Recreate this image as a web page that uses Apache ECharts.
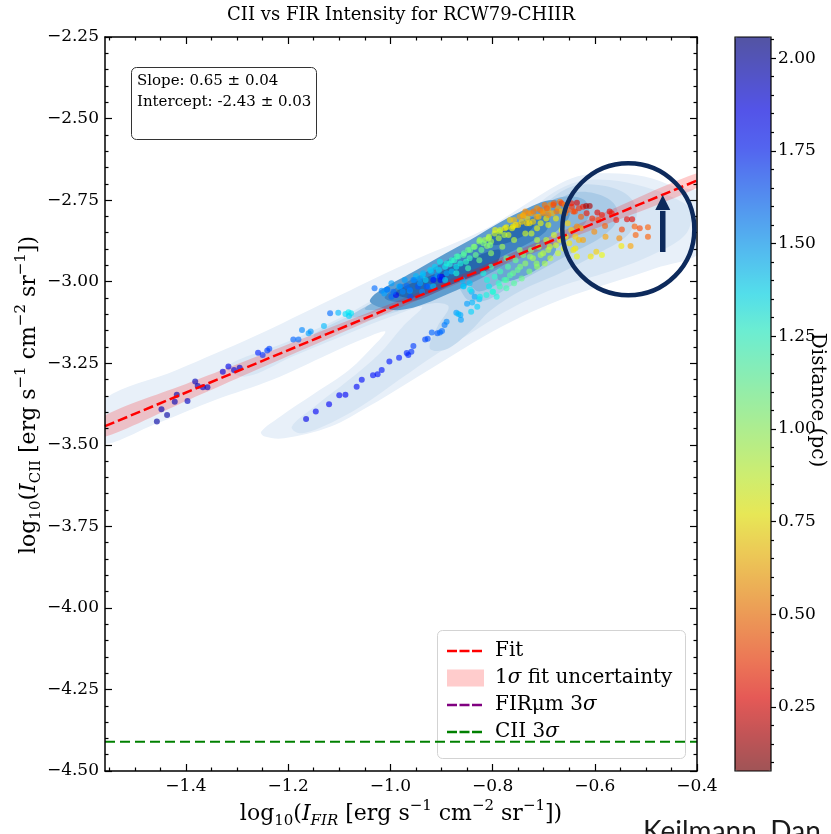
<!DOCTYPE html>
<html>
<head>
<meta charset="utf-8">
<script src="https://cdn.jsdelivr.net/npm/echarts@6.0.0/dist/echarts.min.js"></script>
<style>
html,body{margin:0;padding:0;background:#ffffff;}
#chart{width:831px;height:834px;}
</style>
</head>
<body>
<div id="chart"></div>
<script>
// ---------------- axis ranges & ticks ----------------
const X_MIN = -1.5585, X_MAX = -0.4;
const Y_MIN = -4.5, Y_MAX = -2.25;
const CB_MIN = 0.077, CB_MAX = 2.057;
const xMajorTicks = [-1.4, -1.2, -1.0, -0.8, -0.6, -0.4];
const xMinorTicks = [-1.55,-1.5,-1.45,-1.35,-1.3,-1.25,-1.15,-1.1,-1.05,-0.95,-0.9,-0.85,-0.75,-0.7,-0.65,-0.55,-0.5,-0.45];
const yMajorTicks = [-4.5,-4.25,-4.0,-3.75,-3.5,-3.25,-3.0,-2.75,-2.5,-2.25];
const yMinorTicks = [-4.45,-4.4,-4.35,-4.3,-4.2,-4.15,-4.1,-4.05,-3.95,-3.9,-3.85,-3.8,-3.7,-3.65,-3.6,-3.55,-3.45,-3.4,-3.35,-3.3,-3.2,-3.15,-3.1,-3.05,-2.95,-2.9,-2.85,-2.8,-2.7,-2.65,-2.6,-2.55,-2.45,-2.4,-2.35,-2.3];
const cbMajorTicks = [0.25,0.5,0.75,1.0,1.25,1.5,1.75,2.0];
const cbMinorTicks = [0.1,0.15,0.2,0.3,0.35,0.4,0.45,0.55,0.6,0.65,0.7,0.8,0.85,0.9,0.95,1.05,1.1,1.15,1.2,1.3,1.35,1.4,1.45,1.55,1.6,1.65,1.7,1.8,1.85,1.9,1.95,2.05];

// ---------------- fit & thresholds ----------------
const fitSlope = "0.65 \u00b1 0.04";
const fitIntercept = "-2.43 \u00b1 0.03";
const fitLine = [[-1.5585, -3.443], [-0.4, -2.69]];
const bandX  = [-1.56, -1.4, -1.2, -1.0, -0.8, -0.6, -0.4];
const bandHi = [-3.412, -3.314, -3.192, -3.068, -2.938, -2.802, -2.668];
const bandLo = [-3.476, -3.366, -3.228, -3.092, -2.962, -2.838, -2.712];
const cii3sigma = -4.41;

// ---------------- scatter points [log FIR, log CII, distance pc] ----------------
const ptsLowerLeft = [
 [-1.457,-3.429,2.0],[-1.448,-3.391,1.98],[-1.437,-3.409,2.0],[-1.422,-3.368,1.97],[-1.418,-3.347,1.98],
 [-1.397,-3.366,1.95],[-1.382,-3.306,1.96],[-1.377,-3.320,1.97],[-1.367,-3.324,1.95],[-1.358,-3.324,1.96],
 [-1.328,-3.276,1.9],[-1.317,-3.260,1.88],[-1.306,-3.271,1.92],[-1.295,-3.264,1.93],
 [-1.259,-3.218,1.75],[-1.250,-3.225,1.72],[-1.241,-3.211,1.7],[-1.237,-3.206,1.68],
 [-1.190,-3.177,1.62],[-1.180,-3.177,1.6],[-1.173,-3.148,1.55],[-1.160,-3.158,1.5],[-1.156,-3.153,1.52],
 [-1.118,-3.097,1.6],[-1.102,-3.095,1.45],[-1.088,-3.099,1.38],[-1.082,-3.094,1.35],[-1.077,-3.097,1.36],
 [-1.081,-3.105,1.4],[-1.130,-3.136,1.45]
];
const ptsBranch = [
 [-1.165,-3.421,1.88],[-1.146,-3.398,1.86],[-1.120,-3.376,1.85],[-1.100,-3.348,1.84],[-1.088,-3.347,1.85],
 [-1.066,-3.322,1.83],[-1.056,-3.301,1.82],[-1.034,-3.287,1.8],[-1.025,-3.284,1.8],[-1.017,-3.271,1.79],
 [-1.002,-3.245,1.78],[-0.983,-3.233,1.76],[-0.968,-3.219,1.74],[-0.965,-3.225,1.75],[-0.959,-3.215,1.72],
 [-0.955,-3.197,1.7],[-0.932,-3.177,1.68],[-0.927,-3.175,1.66],[-0.919,-3.156,1.62],[-0.908,-3.158,1.64],
 [-0.903,-3.156,1.6],[-0.899,-3.151,1.6],[-0.894,-3.133,1.58],[-0.890,-3.123,1.55],[-0.871,-3.095,1.5],
 [-0.863,-3.102,1.48],[-0.867,-3.099,1.45],[-0.842,-3.092,1.4],[-0.862,-3.117,1.5],[-0.859,-2.995,1.45],
 [-0.857,-3.013,1.5],[-0.845,-3.005,1.42],[-0.841,-3.031,1.45],[-0.835,-3.046,1.48],[-0.826,-3.054,1.42],
 [-0.840,-3.064,1.45],[-0.850,-3.068,1.5],[-0.830,-3.077,1.4]
];
const ptsCore = [
 [-1.031,-3.020,1.6],[-1.017,-3.028,1.55],[-1.012,-3.036,1.5],[-1.006,-3.024,1.6],[-0.998,-3.046,1.6],
 [-0.989,-3.041,1.85],[-0.983,-3.015,1.45],[-0.972,-2.995,1.5],[-0.968,-3.013,1.6],[-0.962,-3.028,1.5],
 [-0.953,-2.995,1.55],[-0.950,-2.983,1.45],[-0.946,-3.015,1.65],[-0.942,-3.005,1.5],[-0.937,-2.980,1.4],
 [-0.931,-2.995,1.4],[-0.925,-3.015,1.55],[-0.920,-2.969,1.45],[-0.916,-2.990,1.6],[-0.908,-2.980,1.5],
 [-0.905,-2.964,1.4],[-0.902,-2.995,1.85],[-0.899,-2.985,1.9],[-0.893,-2.954,1.35],[-0.890,-2.974,1.5],
 [-0.884,-2.946,1.3],[-0.880,-2.969,1.45],[-0.875,-2.934,1.25],[-0.871,-2.954,1.35],[-0.867,-2.923,1.2],
 [-0.863,-2.944,1.3],[-0.856,-2.913,1.15],[-0.852,-2.939,1.25],[-0.848,-2.903,1.1],[-0.845,-2.928,1.2],
 [-0.837,-2.893,1.05],[-0.833,-2.918,1.1],[-0.826,-2.877,1.0],[-0.822,-2.903,1.1],[-0.815,-2.872,0.95],
 [-0.811,-2.891,1.0],[-0.807,-2.862,0.9],[-0.803,-2.877,0.95],[-0.796,-2.852,0.85],[-0.788,-2.867,0.9],
 [-0.785,-2.842,0.85],[-0.777,-2.857,0.9],[-0.773,-2.833,0.8],[-0.766,-2.811,0.7],[-0.762,-2.836,0.8],
 [-0.758,-2.811,0.65],[-0.755,-2.826,0.75],[-0.747,-2.801,0.6],[-0.743,-2.816,0.7],[-0.740,-2.796,0.65],
 [-0.736,-2.785,0.55],[-0.732,-2.806,0.7],[-0.728,-2.821,0.75],[-0.725,-2.790,0.6],[-0.721,-2.816,0.7],
 [-0.713,-2.775,0.55],[-0.710,-2.801,0.65],[-0.706,-2.821,0.8],[-0.702,-2.785,0.6],[-0.698,-2.765,0.5],
 [-0.695,-2.806,0.75],[-0.691,-2.780,0.6],[-0.687,-2.765,0.55],[-0.683,-2.790,0.65],[-0.680,-2.760,0.45],
 [-0.676,-2.806,0.75],[-0.672,-2.775,0.6],[-0.668,-2.755,0.5],[-0.665,-2.785,0.65],
 [-0.998,-3.005,1.5],[-0.976,-3.031,1.55],[-0.961,-3.046,1.65],[-0.938,-3.031,1.55],[-0.916,-3.015,1.45],
 [-0.893,-2.995,1.4],[-0.871,-2.974,1.3],[-0.848,-2.959,1.2],[-0.826,-2.934,1.1],[-0.803,-2.913,1.0],
 [-0.781,-2.893,0.95],[-0.758,-2.872,0.9],[-0.736,-2.852,0.85],[-0.713,-2.836,0.8],[-0.691,-2.826,0.8]
];
const ptsCoreExtra = [
 [-0.740,-2.799,0.6],[-0.730,-2.790,0.55],[-0.720,-2.785,0.5],[-0.714,-2.801,0.6],[-0.707,-2.780,0.5],
 [-0.701,-2.790,0.55],[-0.694,-2.775,0.45],[-0.691,-2.796,0.55],[-0.681,-2.765,0.4],[-0.675,-2.785,0.5],
 [-0.665,-2.760,0.35],[-0.658,-2.790,0.5],[-0.645,-2.770,0.35],[-0.639,-2.785,0.4],
 [-0.795,-2.842,0.8],[-0.786,-2.847,0.85],[-0.776,-2.836,0.75],[-0.769,-2.857,0.85],[-0.760,-2.831,0.75],
 [-0.750,-2.826,0.7],[-0.733,-2.821,0.7],[-0.724,-2.852,0.85],
 [-0.825,-2.872,1.0],[-0.818,-2.882,1.05],[-0.808,-2.867,0.95],[-0.805,-2.888,1.05],[-0.835,-2.893,1.05],
 [-0.844,-2.903,1.1],[-0.857,-2.918,1.15],[-0.870,-2.923,1.2],[-0.880,-2.934,1.25],[-0.890,-2.944,1.3],
 [-0.903,-2.939,1.35],[-0.913,-2.954,1.4],[-0.922,-2.964,1.4],[-0.936,-2.974,1.45],[-0.942,-2.990,1.5],
 [-0.955,-2.995,1.55],[-0.903,-2.985,1.75],[-0.916,-2.995,1.8],[-0.929,-3.015,1.65],[-0.962,-3.025,1.6],
 [-0.981,-3.015,1.55],[-0.994,-3.031,1.6],[-1.007,-3.025,1.55],
 [-0.727,-2.923,1.0],[-0.714,-2.944,1.0],[-0.701,-2.913,0.9],[-0.688,-2.893,0.85],[-0.746,-2.954,1.05],
 [-0.760,-2.974,1.1],[-0.773,-2.995,1.15],[-0.786,-3.015,1.2],[-0.799,-3.031,1.25],[-0.812,-3.041,1.3],
 [-0.825,-3.046,1.35],[-0.844,-3.025,1.35],[-0.857,-3.015,1.4]
];
const ptsLobe = [
 [-0.818,-2.974,1.3],[-0.811,-2.995,1.3],[-0.807,-3.015,1.35],[-0.800,-3.031,1.3],[-0.796,-2.985,1.25],
 [-0.788,-3.005,1.25],[-0.792,-3.046,1.3],[-0.785,-2.969,1.2],[-0.777,-2.995,1.2],[-0.773,-3.020,1.2],
 [-0.770,-2.954,1.15],[-0.766,-2.980,1.15],[-0.758,-3.005,1.15],[-0.755,-2.934,1.1],[-0.751,-2.964,1.1],
 [-0.743,-2.990,1.1],[-0.740,-2.918,1.05],[-0.736,-2.944,1.0],[-0.728,-2.969,1.05],[-0.725,-2.903,1.0],
 [-0.721,-2.928,0.95],[-0.713,-2.954,1.0],[-0.710,-2.893,0.95],[-0.706,-2.918,0.95],[-0.698,-2.944,0.95],
 [-0.695,-2.872,0.9],[-0.691,-2.903,0.9],[-0.687,-2.928,0.9],[-0.680,-2.857,0.85],[-0.676,-2.888,0.85],
 [-0.672,-2.913,0.88],[-0.668,-2.872,0.8],[-0.665,-2.842,0.8],[-0.661,-2.898,0.8],[-0.657,-2.862,0.75],
 [-0.653,-2.821,0.7],[-0.650,-2.882,0.75],[-0.646,-2.842,0.7],[-0.642,-2.903,0.75],[-0.638,-2.862,0.7],
 [-0.635,-2.923,0.8],[-0.631,-2.872,0.65],[-0.627,-2.836,0.6],[-0.803,-2.954,1.2],[-0.773,-2.928,1.1],
 [-0.747,-2.903,1.0],[-0.713,-2.872,0.9]
];
const ptsCircle = [
 [-0.659,-2.765,0.5],[-0.653,-2.780,0.45],[-0.646,-2.760,0.3],[-0.642,-2.785,0.4],[-0.635,-2.758,0.25],
 [-0.631,-2.775,0.35],[-0.627,-2.801,0.45],[-0.623,-2.770,0.3],[-0.617,-2.768,0.15],[-0.610,-2.768,0.15],
 [-0.616,-2.790,0.3],[-0.605,-2.806,0.35],[-0.595,-2.788,0.25],[-0.593,-2.811,0.4],[-0.586,-2.796,0.3],
 [-0.580,-2.829,0.45],[-0.571,-2.785,0.25],[-0.567,-2.790,0.3],[-0.558,-2.811,0.3],[-0.547,-2.840,0.4],
 [-0.537,-2.809,0.25],[-0.527,-2.809,0.25],[-0.522,-2.831,0.45],[-0.520,-2.857,0.45],[-0.512,-2.836,0.4],
 [-0.496,-2.833,0.45],[-0.496,-2.862,0.45],[-0.552,-2.867,0.55],[-0.530,-2.891,0.6],[-0.548,-2.891,0.75],
 [-0.608,-2.923,0.75],[-0.597,-2.908,0.7],[-0.586,-2.918,0.8],[-0.623,-2.872,0.6],[-0.601,-2.847,0.55],
 [-0.579,-2.862,0.6],[-0.638,-2.898,0.75],[-0.635,-2.831,0.55]
];

// ---------------- KDE filled contours (outer -> inner) ----------------
const kdeL1 = [[-1.57,-3.373],[-1.418,-3.271],[-1.268,-3.169],[-1.118,-3.056],[-0.968,-2.944],[-0.818,-2.842],[-0.743,-2.770],[-0.668,-2.699],[-0.623,-2.673],[-0.571,-2.668],[-0.503,-2.678],[-0.443,-2.709],[-0.39,-2.734],[-0.39,-2.903],[-0.481,-2.959],[-0.571,-3.005],[-0.668,-3.056],[-0.743,-3.107],[-0.818,-3.169],[-0.893,-3.240],[-0.968,-3.312],[-1.043,-3.383],[-1.118,-3.445],[-1.208,-3.480],[-1.246,-3.475],[-1.253,-3.460],[-1.216,-3.414],[-1.148,-3.342],[-1.081,-3.271],[-1.028,-3.189],[-1.010,-3.153],[-1.043,-3.169],[-1.118,-3.220],[-1.231,-3.301],[-1.343,-3.363],[-1.456,-3.434],[-1.57,-3.496]];
const kdeL2 = [[-1.321,-3.261],[-1.193,-3.179],[-1.081,-3.097],[-0.968,-2.995],[-0.856,-2.903],[-0.758,-2.821],[-0.683,-2.729],[-0.631,-2.693],[-0.571,-2.688],[-0.503,-2.709],[-0.443,-2.745],[-0.413,-2.780],[-0.421,-2.852],[-0.481,-2.913],[-0.571,-2.969],[-0.668,-3.015],[-0.758,-3.077],[-0.833,-3.148],[-0.908,-3.220],[-0.983,-3.301],[-1.058,-3.383],[-1.133,-3.445],[-1.178,-3.465],[-1.193,-3.445],[-1.148,-3.383],[-1.081,-3.301],[-1.021,-3.220],[-0.976,-3.138],[-0.938,-3.077],[-0.998,-3.107],[-1.081,-3.158],[-1.193,-3.230],[-1.283,-3.291]];
const kdeL3 = [[-1.148,-3.158],[-1.043,-3.077],[-0.953,-2.995],[-0.856,-2.913],[-0.758,-2.831],[-0.698,-2.760],[-0.646,-2.709],[-0.593,-2.704],[-0.541,-2.729],[-0.518,-2.780],[-0.533,-2.852],[-0.593,-2.913],[-0.668,-2.974],[-0.743,-3.026],[-0.803,-3.087],[-0.848,-3.158],[-0.893,-3.209],[-0.923,-3.204],[-0.908,-3.138],[-0.886,-3.077],[-0.916,-3.066],[-0.998,-3.097],[-1.081,-3.138],[-1.148,-3.174]];
const kdeL4 = [[-1.081,-3.107],[-0.998,-3.036],[-0.908,-2.964],[-0.818,-2.893],[-0.743,-2.821],[-0.691,-2.770],[-0.646,-2.729],[-0.601,-2.729],[-0.563,-2.760],[-0.556,-2.811],[-0.586,-2.862],[-0.646,-2.913],[-0.706,-2.964],[-0.766,-3.015],[-0.811,-3.056],[-0.848,-3.056],[-0.871,-3.015],[-0.908,-3.026],[-0.983,-3.066],[-1.058,-3.107]];
const kdeL5 = [[-1.050,-3.082],[-0.968,-3.012],[-0.893,-2.950],[-0.818,-2.878],[-0.758,-2.815],[-0.706,-2.768],[-0.661,-2.740],[-0.620,-2.750],[-0.612,-2.801],[-0.646,-2.862],[-0.691,-2.913],[-0.743,-2.964],[-0.788,-3.005],[-0.826,-3.030],[-0.848,-3.010],[-0.878,-3.012],[-0.938,-3.045],[-1.006,-3.082]];
const kdeL6a = [[-1.040,-3.056],[-0.942,-2.958],[-0.844,-2.872],[-0.746,-2.786],[-0.678,-2.750],[-0.649,-2.796],[-0.697,-2.872],[-0.786,-2.958],[-0.883,-3.035],[-0.981,-3.087]];
const kdeL6b = [[-0.788,-2.964],[-0.743,-2.913],[-0.691,-2.872],[-0.676,-2.903],[-0.706,-2.954],[-0.758,-2.995],[-0.788,-2.995]];
const kdeL7 = [[-1.011,-3.047],[-0.923,-2.964],[-0.825,-2.881],[-0.737,-2.811],[-0.692,-2.796],[-0.697,-2.848],[-0.786,-2.927],[-0.874,-3.004],[-0.962,-3.062]];
const kdeL8a = [[-0.991,-3.032],[-0.903,-2.970],[-0.825,-2.918],[-0.786,-2.903],[-0.795,-2.949],[-0.883,-3.010],[-0.962,-3.050]];
const kdeL8b = [[-0.805,-2.860],[-0.746,-2.817],[-0.717,-2.817],[-0.737,-2.857],[-0.795,-2.888]];
const kdePolys = [kdeL1, kdeL2, kdeL3, kdeL4, kdeL5, kdeL6a, kdeL6b, kdeL7, kdeL8a, kdeL8b];
const kdeColors = ['#e8f0f9','#d8e6f4','#c4daee','#a9cae6','#88b7dc','#5f9dcf','#6aa5d3','#3f82c1','#2667ad','#2a6bb0'];

// ---------------- annotation (hand-drawn circle + arrow) ----------------
const circleCenter = [-0.5344, -2.8391];
const circleRadiusX = 0.1292;
const arrowX = -0.467, arrowTip = -2.734, arrowHeadBase = -2.780, arrowTail = -2.909, arrowHalfWidth = 0.0147;

// jet_r colormap stops (min -> max)
const jetRStops = [[128,0,0],[185,0,0],[244,9,0],[255,57,0],[255,104,0],[255,151,0],[255,198,0],[247,245,0],
 [206,255,41],[164,255,82],[123,255,123],[82,255,164],[41,255,206],[0,230,247],[0,179,255],[0,128,255],
 [0,77,255],[0,26,255],[0,0,244],[0,0,185],[0,0,128]];
const withAlpha = (a) => jetRStops.map(c => 'rgba(' + c[0] + ',' + c[1] + ',' + c[2] + ',' + a + ')');

const SERIF = 'DejaVu Serif';
const points = [].concat(ptsLowerLeft, ptsBranch, ptsCore, ptsCoreExtra, ptsLobe, ptsCircle);
const fmt = (v, d) => (v < 0 ? '\u2212' : '') + Math.abs(v).toFixed(d);

function xAx(position, ticks, len, label, line) {
  return {type:'value', gridIndex:0, position:position, min:X_MIN, max:X_MAX, z:6,
    axisLine:{show:line, onZero:false, lineStyle:{color:'#000', width:1.5}},
    axisTick:{show:true, inside:true, length:len, customValues:ticks, lineStyle:{color:'#000', width:1.2}},
    axisLabel:{show:label, customValues:ticks, margin:7, fontFamily:SERIF, fontSize:17, color:'#000', formatter:v=>fmt(v,1)},
    splitLine:{show:false}};
}
function yAx(position, ticks, len, label, line) {
  return {type:'value', gridIndex:0, position:position, min:Y_MIN, max:Y_MAX, z:6,
    axisLine:{show:line, onZero:false, lineStyle:{color:'#000', width:1.5}},
    axisTick:{show:true, inside:true, length:len, customValues:ticks, lineStyle:{color:'#000', width:1.2}},
    axisLabel:{show:label, customValues:ticks, margin:6, fontFamily:SERIF, fontSize:17, color:'#000', formatter:v=>fmt(v,2)},
    splitLine:{show:false}};
}
function cbAx(ticks, len, label) {
  return {type:'value', gridIndex:1, position:'right', min:CB_MIN, max:CB_MAX, z:6,
    axisLine:{show:false, onZero:false},
    axisTick:{show:true, inside:false, length:len, customValues:ticks, lineStyle:{color:'#000', width:1.2}},
    axisLabel:{show:label, customValues:ticks, margin:7, fontFamily:SERIF, fontSize:17, color:'#000', formatter:v=>v.toFixed(2)},
    splitLine:{show:false}};
}

const supTxt = (s) => '{sup|' + s + '}';
const richLabel = {
  r:{fontFamily:SERIF, fontSize:22, lineHeight:30, color:'#000'},
  i:{fontFamily:SERIF, fontSize:22, lineHeight:30, fontStyle:'italic', color:'#000'},
  sub:{fontFamily:SERIF, fontSize:15, lineHeight:15, verticalAlign:'bottom', color:'#000'},
  isub:{fontFamily:SERIF, fontSize:15, lineHeight:15, verticalAlign:'bottom', fontStyle:'italic', color:'#000'},
  sup:{fontFamily:SERIF, fontSize:15, lineHeight:17, verticalAlign:'top', color:'#000'}
};
const unitPart = '{r| [erg s}' + supTxt('\u22121') + '{r| cm}' + supTxt('\u22122') + '{r| sr}' + supTxt('\u22121') + '{r|])}';
const xTitle = '{r|log}{sub|10}{r|(}{i|I}{isub|FIR}' + unitPart;
const yTitle = '{r|log}{sub|10}{r|(}{i|I}{sub|CII}' + unitPart;

const legendRich = {
  t:{fontFamily:SERIF, fontSize:20, color:'#000'},
  s:{fontFamily:SERIF, fontSize:20, fontStyle:'italic', color:'#000'}
};
const legendRows = [
  {y:651, kind:'line', color:'#ff0000', text:'{t|Fit}'},
  {y:678, kind:'patch', color:'#ffcccc', text:'{t|1}{s|σ}{t| fit uncertainty}'},
  {y:705, kind:'line', color:'#800080', text:'{t|FIRμm 3}{s|σ}'},
  {y:732, kind:'line', color:'#008000', text:'{t|CII 3}{s|σ}'}
];
const legendEls = [{type:'rect', shape:{x:437.5, y:630.5, width:248, height:128, r:5},
  style:{fill:'rgba(255,255,255,0.8)', stroke:'#d3d3d3', lineWidth:1}}];
legendRows.forEach(row => {
  if (row.kind === 'line') {
    legendEls.push({type:'line', shape:{x1:447, y1:row.y, x2:482, y2:row.y},
      style:{stroke:row.color, lineWidth:2.5, lineDash:[10,2.5]}});
  } else {
    legendEls.push({type:'rect', shape:{x:447, y:row.y-8.5, width:37, height:17}, style:{fill:row.color}});
  }
  legendEls.push({type:'text', x:495, y:row.y, style:{text:row.text, rich:legendRich, verticalAlign:'middle', align:'left'}});
});

const option = {
  animation:false,
  backgroundColor:'#ffffff',
  grid:[
    {left:105, top:37, width:592, height:734, show:false},
    {left:735, top:37, width:36, height:734, show:true, z:10, borderColor:'#000', borderWidth:1.2, backgroundColor:'transparent'}
  ],
  xAxis:[
    xAx('bottom', xMajorTicks, 7, true, true),
    xAx('top', xMajorTicks, 7, false, true),
    xAx('bottom', xMinorTicks, 3.5, false, false),
    xAx('top', xMinorTicks, 3.5, false, false),
    {type:'value', gridIndex:1, min:0, max:1, show:false}
  ],
  yAxis:[
    yAx('left', yMajorTicks, 7, true, true),
    yAx('right', yMajorTicks, 7, false, true),
    yAx('left', yMinorTicks, 3.5, false, false),
    yAx('right', yMinorTicks, 3.5, false, false),
    cbAx(cbMajorTicks, 5, true),
    cbAx(cbMinorTicks, 3, false)
  ],
  visualMap:[
    {type:'continuous', show:false, min:CB_MIN, max:CB_MAX, dimension:2, seriesIndex:2,
      inRange:{color:withAlpha(0.78)}},
    {type:'continuous', show:true, min:CB_MIN, max:CB_MAX, dimension:2, seriesIndex:5, orient:'vertical',
      left:735, top:37, itemWidth:36, itemHeight:734, padding:0, calculable:false, hoverLink:false,
      text:null, inRange:{color:withAlpha(0.6)}, z:4}
  ],
  series:[
    {type:'custom', name:'KDE', xAxisIndex:0, yAxisIndex:0, clip:true, silent:true, z:1,
      data:kdePolys.map((p,i)=>[i]),
      renderItem:function(params, api){
        const poly = kdePolys[params.dataIndex];
        return {type:'polygon', shape:{points:poly.map(p=>api.coord(p)), smooth:0.35},
          style:{fill:kdeColors[params.dataIndex]}};
      }},
    {type:'custom', name:'1σ fit uncertainty', xAxisIndex:0, yAxisIndex:0, clip:true, silent:true, z:2,
      data:[[0]],
      renderItem:function(params, api){
        const pts = [];
        for (let i=0;i<bandX.length;i++) pts.push(api.coord([bandX[i], bandHi[i]]));
        for (let i=bandX.length-1;i>=0;i--) pts.push(api.coord([bandX[i], bandLo[i]]));
        return {type:'polygon', shape:{points:pts, smooth:0.2}, style:{fill:'rgba(255,0,0,0.2)'}};
      }},
    {type:'scatter', name:'Distance', xAxisIndex:0, yAxisIndex:0, data:points, symbolSize:6, z:3,
      itemStyle:{borderWidth:0}},
    {type:'line', name:'Fit', xAxisIndex:0, yAxisIndex:0, data:fitLine, symbol:'none', z:4,
      lineStyle:{color:'#ff0000', width:2.5, type:[10,4]}},
    {type:'line', name:'CII 3σ', xAxisIndex:0, yAxisIndex:0, data:[[X_MIN,cii3sigma],[X_MAX,cii3sigma]], symbol:'none', z:4,
      lineStyle:{color:'#008000', width:2, type:[10,5]}},
    {type:'line', name:'FIRμm 3σ', xAxisIndex:0, yAxisIndex:0, data:[], symbol:'none', lineStyle:{color:'#800080'}},
    {type:'custom', name:'annotation', xAxisIndex:0, yAxisIndex:0, clip:false, silent:true, z:8, data:[[0]],
      renderItem:function(params, api){
        const c = api.coord(circleCenter);
        const r = api.size([circleRadiusX, 0])[0];
        const tip = api.coord([arrowX, arrowTip]);
        const base = api.coord([arrowX, arrowHeadBase]);
        const tail = api.coord([arrowX, arrowTail]);
        const hw = api.size([arrowHalfWidth, 0])[0];
        return {type:'group', children:[
          {type:'circle', shape:{cx:c[0], cy:c[1], r:r}, style:{fill:'none', stroke:'#0d2a5c', lineWidth:4.5}},
          {type:'line', shape:{x1:tail[0], y1:tail[1], x2:base[0], y2:base[1]+1}, style:{stroke:'#0d2a5c', lineWidth:5.5}},
          {type:'polygon', shape:{points:[[tip[0],tip[1]],[base[0]-hw,base[1]],[base[0]+hw,base[1]]]}, style:{fill:'#0d2a5c'}}
        ]};
      }}
  ],
  graphic:[
    {type:'text', x:401, y:15, style:{text:'CII vs FIR Intensity for RCW79-CHIIR', fontFamily:SERIF, fontSize:18, fill:'#000', align:'center', verticalAlign:'middle'}},
    {type:'text', x:401, y:814, style:{text:xTitle, rich:richLabel, align:'center', verticalAlign:'middle'}},
    {type:'text', x:29, y:395, rotation:Math.PI/2, style:{text:yTitle, rich:richLabel, align:'center', verticalAlign:'middle'}},
    {type:'text', x:817, y:400, rotation:-Math.PI/2, style:{text:'Distance (pc)', fontFamily:SERIF, fontSize:20, fill:'#000', align:'center', verticalAlign:'middle'}},
    {type:'rect', shape:{x:131.5, y:67.5, width:185, height:72, r:5}, style:{fill:'#ffffff', stroke:'#333333', lineWidth:1}, z:20},
    {type:'text', x:137, y:81, z:21, style:{text:'Slope: ' + fitSlope, fontFamily:SERIF, fontSize:15, fill:'#000', verticalAlign:'middle'}},
    {type:'text', x:137, y:102, z:21, style:{text:'Intercept: ' + fitIntercept, fontFamily:SERIF, fontSize:15, fill:'#000', verticalAlign:'middle'}},
    {type:'group', z:20, children:legendEls},
    {type:'text', x:643, y:818, style:{text:'Keilmann, Dan', fontFamily:'Lato', fontSize:28, fill:'#1a1a1a', verticalAlign:'top'}}
  ]
};
const chart = echarts.init(document.getElementById('chart'), null, {renderer:'canvas'});
chart.setOption(option);
</script>
</body>
</html>
